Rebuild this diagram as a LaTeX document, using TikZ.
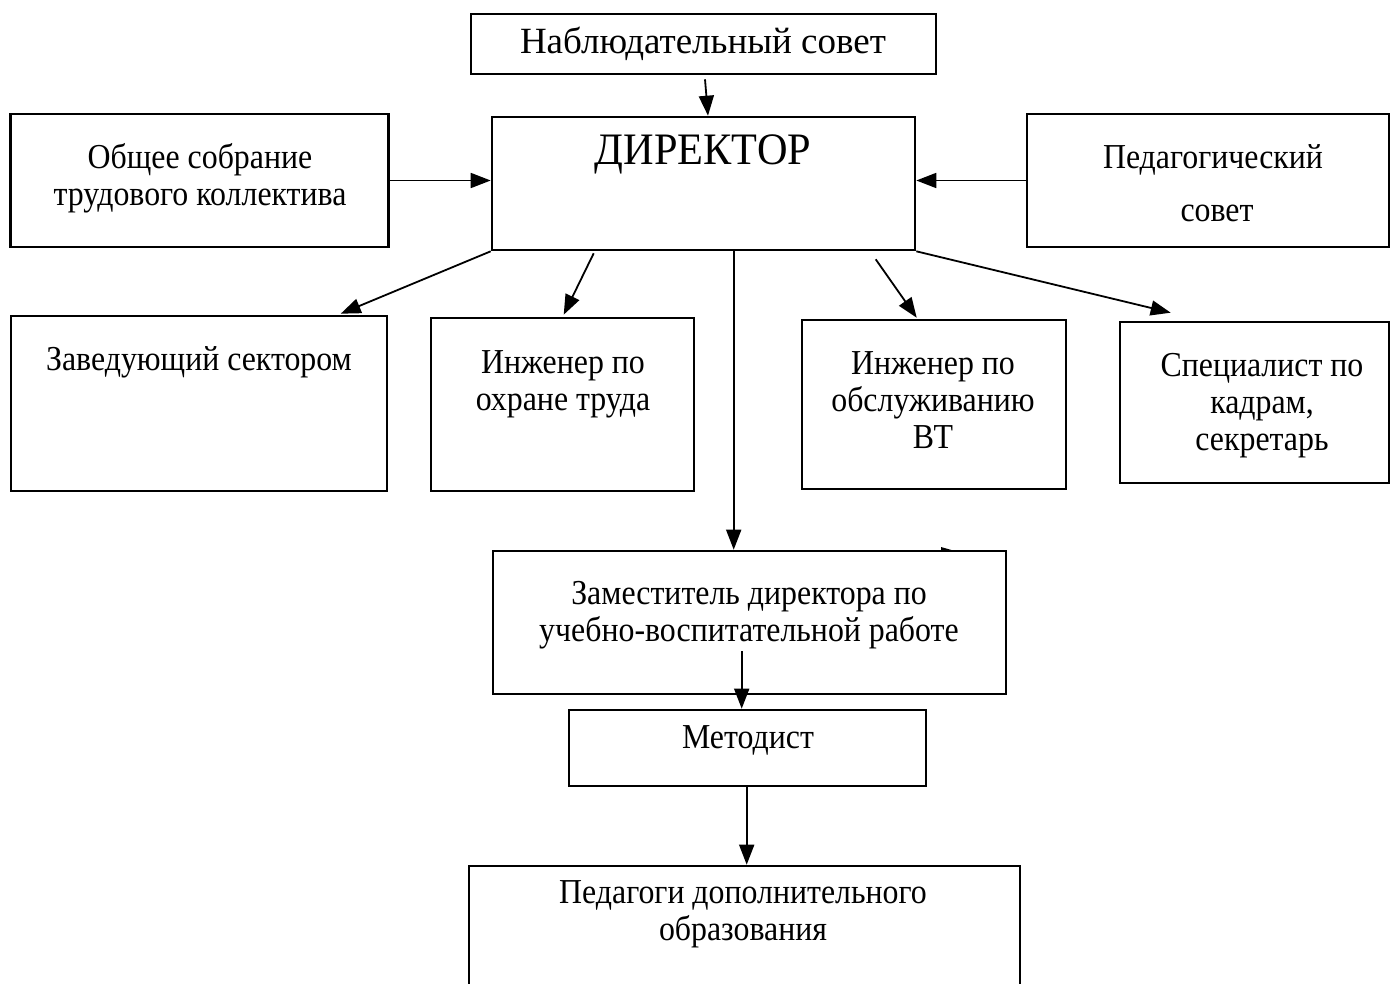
\documentclass[tikz,border=0pt]{standalone}
\usepackage{fontspec}
\setmainfont{Liberation Serif}
\usetikzlibrary{arrows.meta,calc}
\newcommand{\sqz}[2]{\scalebox{#1}[1]{\begin{tabular}{@{}c@{}}#2\end{tabular}}}
\begin{document}
\begin{tikzpicture}[x=1pt,y=-1pt,
  box/.style={draw,line width=2.6pt,inner sep=0pt},
  lbl/.style={font=\fontsize{35}{37}\selectfont,align=center,inner sep=0pt},
  arr/.style={line width=1.8pt,-{Triangle[length=20pt,width=15pt]}}]
\useasboundingbox (0,0) rectangle (1391,984);
% boxes
\node[box,minimum width=465pt,minimum height=60pt] (nab) at (703.5,44) {};
\node[box,minimum width=423pt,minimum height=133pt] (dir) at (703.5,183.5) {};
\node[box,minimum width=378pt,minimum height=133pt] (obs) at (199.5,180.5) {};
\node[box,minimum width=362pt,minimum height=133pt] (ped) at (1208,180.5) {};
\node[box,minimum width=376pt,minimum height=175pt] (zav) at (199,403.5) {};
\node[box,minimum width=263pt,minimum height=173pt] (ohr) at (562.5,404.5) {};
\node[box,minimum width=264pt,minimum height=169pt] (obsl) at (934,404.5) {};
\node[box,minimum width=269pt,minimum height=161pt] (spec) at (1254.5,402.5) {};
\node[box,minimum width=513pt,minimum height=143pt] (zam) at (749.5,622.5) {};
\node[box,minimum width=357pt,minimum height=76pt] (met) at (747.5,748) {};
\node[box,minimum width=551pt,minimum height=124pt] (ped2) at (744.5,928) {};
% texts
\node[lbl,font=\fontsize{37}{37}\selectfont] (nabT) at (703,46) {\sqz{1.0}{Наблюдательный совет}};
\node[lbl,font=\fontsize{45}{50}\selectfont] (dirT) at (703,155) {\sqz{0.94}{ДИРЕКТОР}};
\node[lbl] (obsT) at (200,180) {\sqz{0.91}{Общее собрание\\трудового коллектива}};
\node[lbl] (pedT1) at (1213,161) {\sqz{0.91}{Педагогический}};
\node[lbl] (pedT2) at (1217,214) {\sqz{0.91}{совет}};
\node[lbl] (zavT) at (199,363) {\sqz{0.91}{Заведующий сектором}};
\node[lbl] (ohrT) at (563,385) {\sqz{0.91}{Инженер по\\охране труда}};
\node[lbl] (obslT) at (933,404) {\sqz{0.91}{Инженер по\\обслуживанию\\ВТ}};
\node[lbl] (specT) at (1262,406) {\sqz{0.91}{Специалист по\\кадрам,\\секретарь}};
\node[lbl] (zamT) at (749,616) {\sqz{0.91}{Заместитель директора по\\учебно-воспитательной работе}};
\node[lbl] (metT) at (748,741) {\sqz{0.91}{Методист}};
\node[lbl] (ped2T) at (743,915) {\sqz{0.91}{Педагоги дополнительного\\образования}};
% connectors
\draw[arr] ([shift={(1.5,4)}]nab.south) -- ([shift={(4.5,0)}]dir.north);
\draw[arr] (obs.east) -- (obs.east -| dir.west);
\draw[arr] (ped.west) -- (ped.west -| dir.east);
\draw[arr] (dir.south west) -- ([shift={(331,-1)}]zav.north west);
\draw[arr] ([shift={(103,2)}]dir.south west) -- ([shift={(134,-2)}]ohr.north west);
\draw[arr] ([shift={(243,-2)}]dir.south west) -- ([shift={(242,0)}]zam.north west);
\draw[arr] ([shift={(385,8)}]dir.south west) -- ([shift={(116,-1)}]obsl.north west);
\draw[arr] (dir.south east) -- ([shift={(52,-8)}]spec.north west);
\draw[arr] ([shift={(250,-44)}]zam.south west) -- ([shift={(174,0)}]met.north west);
\draw[arr] ([shift={(179,0)}]met.south west) -- ([shift={(279,0)}]ped2.north west);
% stray small wedge
\fill (941,547) -- (955,551) -- (941,551) -- cycle;
\end{tikzpicture}
\end{document}
